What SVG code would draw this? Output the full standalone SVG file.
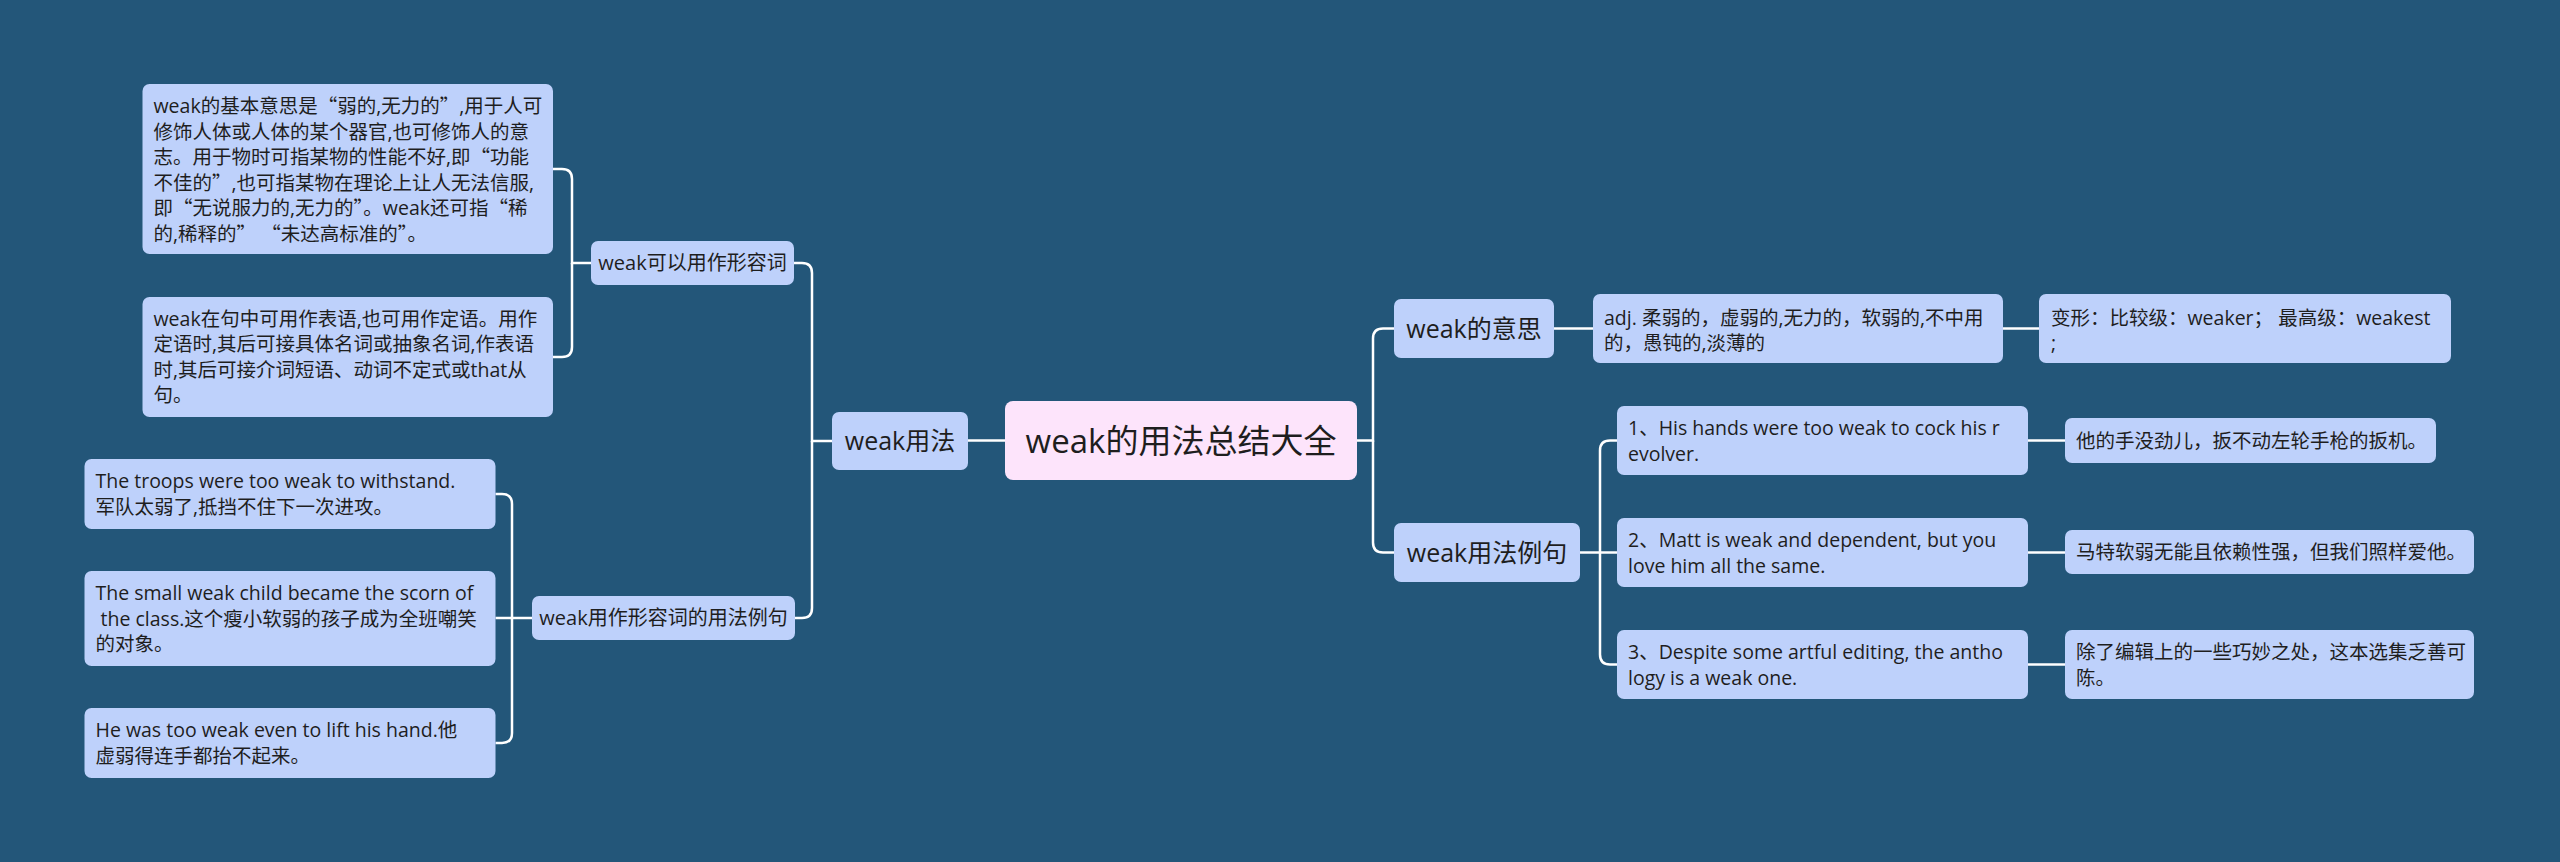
<svg xmlns="http://www.w3.org/2000/svg" width="2560" height="862" viewBox="0 0 2560 862">
<style>
.bg{fill:#235679}
.n rect{fill:#bed1fb}
.root rect{fill:#fde4fb}
text{font-family:"Open Sans","Noto Sans CJK SC",sans-serif;fill:#1e1e1e}
.t0{font-size:33px;text-anchor:middle}
.t1{font-size:25px;text-anchor:middle}
.t2{font-size:20px;text-anchor:middle}
.t3{font-size:19.5px}
.q{font-family:"Noto Sans CJK SC",sans-serif}
.c path{fill:none;stroke:#ffffff;stroke-width:2.5}
</style>
<rect class="bg" x="0" y="0" width="2560" height="862"/>
<g class="c" id="connectors">
<path d="M1357 440.5 H1373 V338.5 Q1373 328.5 1383 328.5 H1394"/>
<path d="M1373 440.5 V542.5 Q1373 552.5 1383 552.5 H1394"/>
<path d="M1554 328.5 H1593"/>
<path d="M2003 328.5 H2039"/>
<path d="M1580 552.5 H1617"/>
<path d="M1600 552.5 V450.5 Q1600 440.5 1610 440.5 H1617"/>
<path d="M1600 552.5 V654.5 Q1600 664.5 1610 664.5 H1617"/>
<path d="M2028 440.5 H2065"/>
<path d="M2028 552.5 H2065"/>
<path d="M2028 664.5 H2065"/>
<path d="M1005 440.5 H968"/>
<path d="M832 441 H812 V273 Q812 263 802 263 H794"/>
<path d="M812 441 V608 Q812 618 802 618 H795"/>
<path d="M591 263 H572 V179 Q572 169 562 169 H553"/>
<path d="M572 263 V347 Q572 357 562 357 H553"/>
<path d="M532 618 H495.5"/>
<path d="M512 618 V504 Q512 494 502 494 H495.5"/>
<path d="M512 618 V733 Q512 743 502 743 H495.5"/>
</g>
<g id="root" class="root"><rect x="1005" y="401" width="352" height="79" rx="8"/><text class="t0" x="1181" y="452.5">weak的用法总结大全</text></g>
<g id="n-usage" class="n"><rect x="832" y="412" width="136" height="58" rx="7"/><text class="t1" x="900" y="450">weak用法</text></g>
<g id="n-meaning" class="n"><rect x="1394" y="299" width="160" height="59" rx="7"/><text class="t1" x="1474" y="337.5">weak的意思</text></g>
<g id="n-examples" class="n"><rect x="1394" y="523" width="186" height="59" rx="7"/><text class="t1" x="1487" y="561.5">weak用法例句</text></g>
<g id="n-adj" class="n"><rect x="591" y="241" width="203" height="44" rx="7"/><text class="t2" x="692.5" y="270">weak可以用作形容词</text></g>
<g id="n-adjex" class="n"><rect x="532" y="596" width="263" height="44" rx="7"/><text class="t2" x="663.5" y="625">weak用作形容词的用法例句</text></g>
<g id="n-a1" class="n"><rect x="142.5" y="84" width="410.5" height="170" rx="7"/>
<text class="t3" x="153.5" y="113">weak的基本意思是<tspan class="q">“</tspan>弱的,无力的<tspan class="q">”</tspan>,用于人可</text>
<text class="t3" x="153.5" y="138.6">修饰人体或人体的某个器官,也可修饰人的意</text>
<text class="t3" x="153.5" y="164.2">志。用于物时可指某物的性能不好,即<tspan class="q">“</tspan>功能</text>
<text class="t3" x="153.5" y="189.8">不佳的<tspan class="q">”</tspan>,也可指某物在理论上让人无法信服,</text>
<text class="t3" x="153.5" y="215.4">即<tspan class="q">“</tspan>无说服力的,无力的<tspan class="q">”</tspan>。weak还可指<tspan class="q">“</tspan>稀</text>
<text class="t3" x="153.5" y="241">的,稀释的<tspan class="q">”</tspan> <tspan class="q">“</tspan>未达高标准的<tspan class="q">”</tspan>。</text>
</g>
<g id="n-a2" class="n"><rect x="142.5" y="297" width="410.5" height="120" rx="7"/>
<text class="t3" x="153.5" y="325.6">weak在句中可用作表语,也可用作定语。用作</text>
<text class="t3" x="153.5" y="351.2">定语时,其后可接具体名词或抽象名词,作表语</text>
<text class="t3" x="153.5" y="376.8">时,其后可接介词短语、动词不定式或that从</text>
<text class="t3" x="153.5" y="402.4">句。</text>
</g>
<g id="n-b1" class="n"><rect x="84.5" y="459" width="411" height="70" rx="7"/>
<text class="t3" x="95.5" y="488.2">The troops were too weak to withstand.</text>
<text class="t3" x="95.5" y="513.8">军队太弱了,抵挡不住下一次进攻。</text>
</g>
<g id="n-b2" class="n"><rect x="84.5" y="571" width="411" height="95" rx="7"/>
<text class="t3" x="95.5" y="599.9">The small weak child became the scorn of</text>
<text class="t3" x="95.5" y="625.5" xml:space="preserve"> the class.这个瘦小软弱的孩子成为全班嘲笑</text>
<text class="t3" x="95.5" y="651.1">的对象。</text>
</g>
<g id="n-b3" class="n"><rect x="84.5" y="708" width="411" height="70" rx="7"/>
<text class="t3" x="95.5" y="737.2">He was too weak even to lift his hand.他</text>
<text class="t3" x="95.5" y="762.8">虚弱得连手都抬不起来。</text>
</g>
<g id="n-def" class="n"><rect x="1593" y="294" width="410" height="69" rx="7"/>
<text class="t3" x="1604" y="324.5">adj. 柔弱的，虚弱的,无力的，软弱的,不中用</text>
<text class="t3" x="1604" y="350">的，愚钝的,淡薄的</text>
</g>
<g id="n-forms" class="n"><rect x="2039" y="294" width="412" height="69" rx="7"/>
<text class="t3" x="2051" y="324.5" xml:space="preserve">变形：比较级：weaker； 最高级：weakest</text>
<text class="t3" x="2051" y="350">;</text>
</g>
<g id="n-ex1" class="n"><rect x="1617" y="406" width="411" height="69" rx="7"/>
<text class="t3" x="1628" y="435">1、His hands were too weak to cock his r</text>
<text class="t3" x="1628" y="460.5">evolver.</text>
</g>
<g id="n-ex2" class="n"><rect x="1617" y="518" width="411" height="69" rx="7"/>
<text class="t3" x="1628" y="547">2、Matt is weak and dependent, but you</text>
<text class="t3" x="1628" y="572.5">love him all the same.</text>
</g>
<g id="n-ex3" class="n"><rect x="1617" y="630" width="411" height="69" rx="7"/>
<text class="t3" x="1628" y="659">3、Despite some artful editing, the antho</text>
<text class="t3" x="1628" y="684.5">logy is a weak one.</text>
</g>
<g id="n-tr1" class="n"><rect x="2065" y="418" width="371" height="45" rx="7"/>
<text class="t3" x="2076" y="447.5">他的手没劲儿，扳不动左轮手枪的扳机。</text>
</g>
<g id="n-tr2" class="n"><rect x="2065" y="530" width="409" height="44" rx="7"/>
<text class="t3" x="2076" y="559">马特软弱无能且依赖性强，但我们照样爱他。</text>
</g>
<g id="n-tr3" class="n"><rect x="2065" y="630" width="409" height="69" rx="7"/>
<text class="t3" x="2076" y="659">除了编辑上的一些巧妙之处，这本选集乏善可</text>
<text class="t3" x="2076" y="684.5">陈。</text>
</g>
</svg>
